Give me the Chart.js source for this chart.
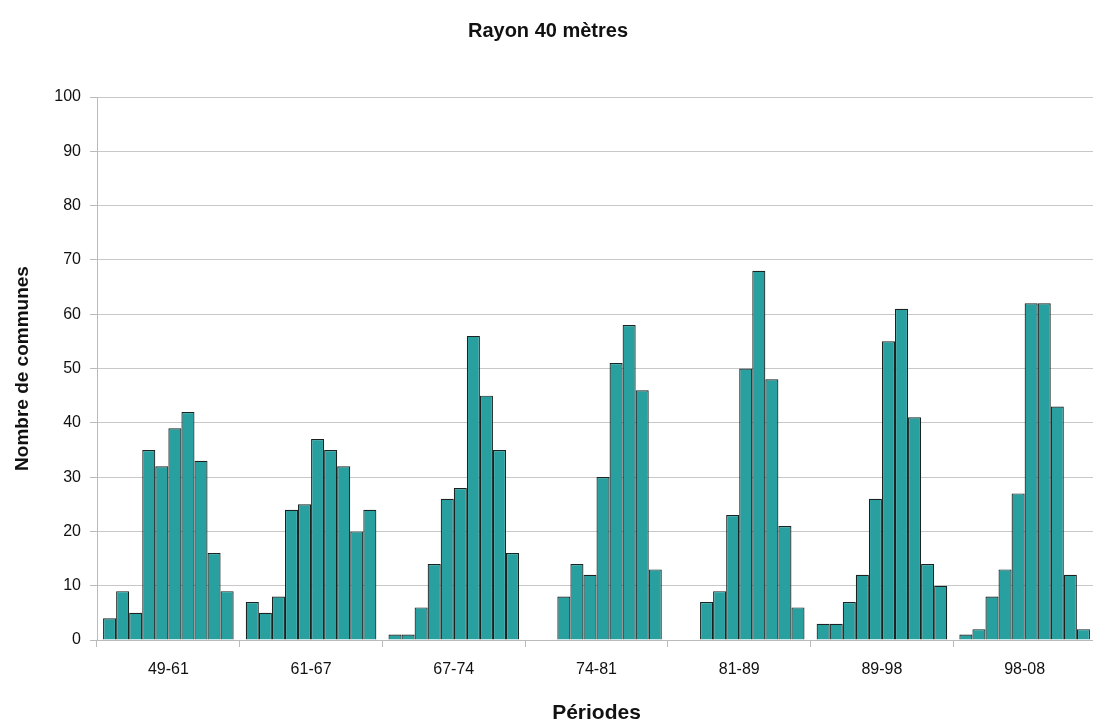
<!DOCTYPE html>
<html>
<head>
<meta charset="utf-8">
<script src="https://cdn.jsdelivr.net/npm/chart.js@4"></script>
<style>
html,body{margin:0;padding:0;background:#fff;overflow:hidden;}
#wrap{width:1093px;height:719px;overflow:hidden;}
</style>
</head>
<body>
<div id="wrap"><canvas id="c" width="1096" height="719"></canvas></div>
<script>
const categories = ["49-61","61-67","67-74","74-81","81-89","89-98","98-08"];
const s1  = [4, 7, 1, 0, 0, 3, 1];
const s2  = [9, 5, 1, 0, 0, 3, 2];
const s3  = [5, 8, 6, 8, 7, 7, 8];
const s4  = [35, 24, 14, 14, 9, 12, 13];
const s5  = [32, 25, 26, 12, 23, 26, 27];
const s6  = [39, 37, 28, 30, 50, 55, 62];
const s7  = [42, 35, 56, 51, 68, 61, 62];
const s8  = [33, 32, 45, 58, 48, 41, 43];
const s9  = [16, 20, 35, 46, 21, 14, 12];
const s10 = [9, 24, 16, 13, 6, 10, 2];
const seriesList = [s1,s2,s3,s4,s5,s6,s7,s8,s9,s10];
const yTicks = [0,10,20,30,40,50,60,70,80,90,100];

const fill = '#27A09F';
const datasets = seriesList.map((d,i)=>({
  label: 'Série ' + (i+1),
  data: d,
  backgroundColor: fill,
  borderColor: '#1a2222',
  borderWidth: 1.2,
  borderSkipped: 'bottom',
  categoryPercentage: 0.915,
  barPercentage: 1.0
}));

new Chart(document.getElementById('c'), {
  type: 'bar',
  data: { labels: categories, datasets },
  options: {
    responsive: false,
    animation: false,
    layout: { padding: { left: 0, right: 0, top: 0, bottom: 0 } },
    plugins: {
      legend: { display: false },
      tooltip: { enabled: false },
      title: {
        display: true,
        text: 'Rayon 40 mètres',
        color: '#111',
        font: { family: 'Liberation Sans, Arial, sans-serif', size: 20, weight: 'bold' },
        padding: { top: 19, bottom: 54 }
      }
    },
    scales: {
      x: {
        grid: { offset: true, drawOnChartArea: false, color: '#bbbbbb', tickLength: 7 },
        border: { color: '#bbbbbb' },
        ticks: { color: '#111', padding: 13, font: { family: 'Liberation Sans, Arial, sans-serif', size: 16 } },
        title: {
          display: true, text: 'Périodes', color: '#111',
          font: { family: 'Liberation Sans, Arial, sans-serif', size: 21, weight: 'bold', lineHeight: 1 },
          padding: { top: 0, bottom: -5 }
        },
        afterFit: (s) => { s.height = 79; }
      },
      y: {
        min: 0, max: 100,
        afterBuildTicks: (s) => { s.ticks = yTicks.map(v => ({ value: v })); },
        grid: { color: '#c8c8c8', tickLength: 7, tickColor: '#bbbbbb' },
        border: { color: '#bbbbbb' },
        ticks: { color: '#111', padding: 9, font: { family: 'Liberation Sans, Arial, sans-serif', size: 16 } },
        title: {
          display: true, text: 'Nombre de communes', color: '#111',
          font: { family: 'Liberation Sans, Arial, sans-serif', size: 19, weight: 'bold' },
          padding: { top: 11, bottom: 0 }
        },
        afterFit: (s) => { s.width = 97; }
      }
    }
  }
});
</script>
</body>
</html>
